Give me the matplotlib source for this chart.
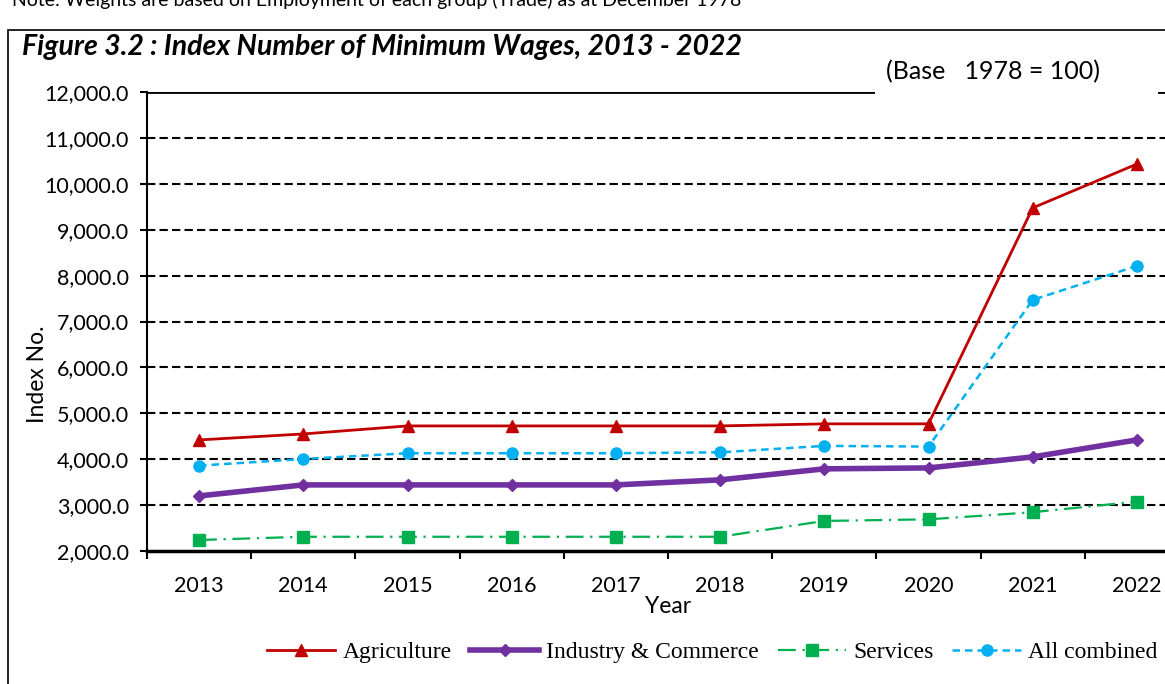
import matplotlib
matplotlib.use('Agg')
import matplotlib.pyplot as plt
from matplotlib.patches import Rectangle
from matplotlib.ticker import FuncFormatter

# data
years = ['2013', '2014', '2015', '2016', '2017', '2018', '2019', '2020', '2021', '2022']
agriculture = [4420, 4550, 4725, 4725, 4725, 4725, 4770, 4770, 9475, 10430]
industry = [3200, 3440, 3440, 3440, 3440, 3550, 3790, 3810, 4050, 4420]
services = [2240, 2310, 2310, 2310, 2310, 2310, 2655, 2690, 2845, 3075]
all_combined = [3860, 4005, 4130, 4130, 4130, 4150, 4290, 4275, 7470, 8210]

sans = ['Lato', 'DejaVu Sans']
serif = ['Liberation Serif', 'DejaVu Serif']

fig = plt.figure(figsize=(11.65, 6.84), dpi=100)

# outer frame (cut at right and bottom)
fig.patches.append(Rectangle((8 / 1165, -0.05), 1.2, 1 - 30 / 684 + 0.05,
                             transform=fig.transFigure, fill=False,
                             edgecolor='black', linewidth=1.2))

fig.text(12 / 1165, 1 - 6 / 684,
         'Note: Weights are based on Employment of each group (Trade) as at December 1978',
         family=sans, fontsize=14, va='baseline', ha='left')

fig.text(22 / 1165, 1 - 47 / 684,
         'Figure 3.2 : Index Number of Minimum Wages, 2013 - 2022',
         family=sans, fontsize=20.5, fontweight='bold', fontstyle='italic',
         va='center', ha='left')

ax = fig.add_axes([147 / 1165, 1 - 551 / 684, 1042 / 1165, (551 - 92) / 684])

x = [i + 0.5 for i in range(len(years))]

ax.plot(x, agriculture, color='#C00000', lw=2, marker='^', ms=8,
        label='Agriculture', zorder=5)
ax.plot(x, industry, color='#7030A0', lw=4, marker='D', ms=6,
        label='Industry & Commerce', zorder=5)
ax.plot(x, services, color='#00B050', lw=1.6, ls=(0, (8, 3, 1, 3)), marker='s', ms=8,
        label='Services', zorder=5)
ax.plot(x, all_combined, color='#00B0F0', lw=1.8, ls=(0, (3, 2)), marker='o', ms=8,
        label='All combined', zorder=5)

ax.set_xlim(0, 10)
ax.set_ylim(2000, 12000)

ax.set_yticks(range(2000, 12001, 1000))
ax.yaxis.set_major_formatter(FuncFormatter(lambda v, p: f'{v:,.1f}'))
for v in range(3000, 12000, 1000):
    ax.axhline(v, color='black', lw=1.5, ls=(0, (4, 2)), zorder=1)
ax.axhline(12000, color='black', lw=2, zorder=1)

ax.set_xticks(range(0, 11))
ax.set_xticklabels([])
ax.set_xticks(x, minor=True)
ax.set_xticklabels(years, minor=True)
ax.tick_params(axis='x', which='major', length=6, width=1.5, direction='out')
ax.tick_params(axis='x', which='minor', length=0, pad=18, labelsize=15.5)
ax.tick_params(axis='y', length=5, width=1.5, labelsize=15.5, pad=8)

for lab in ax.get_xticklabels(minor=True) + ax.get_yticklabels():
    lab.set_family(sans)

for s in ['top', 'right']:
    ax.spines[s].set_visible(False)
ax.spines['left'].set_linewidth(1.5)
ax.spines['bottom'].set_linewidth(2.5)

ax.set_xlabel('Year', family=sans, fontsize=16.5, labelpad=0)
ax.set_ylabel('Index No.', family=sans, fontsize=16.5)
ax.yaxis.set_label_coords(-0.095, 0.385)

fig.text(993 / 1165, 1 - 72 / 684, '(Base   1978 = 100)', family=sans, fontsize=18,
         ha='center', va='center')
fig.patches.append(Rectangle((875 / 1165, 1 - 97 / 684), 283 / 1165, 12 / 684,
                             transform=fig.transFigure, facecolor='white',
                             edgecolor='none', zorder=10))

fig.legend(loc='center', bbox_to_anchor=(712 / 1165, 1 - 652 / 684), ncol=4,
           frameon=False, prop={'family': serif, 'size': 17}, handlelength=2.9,
           columnspacing=0.8, handletextpad=0.3)

fig.savefig('out.png', dpi=100)
